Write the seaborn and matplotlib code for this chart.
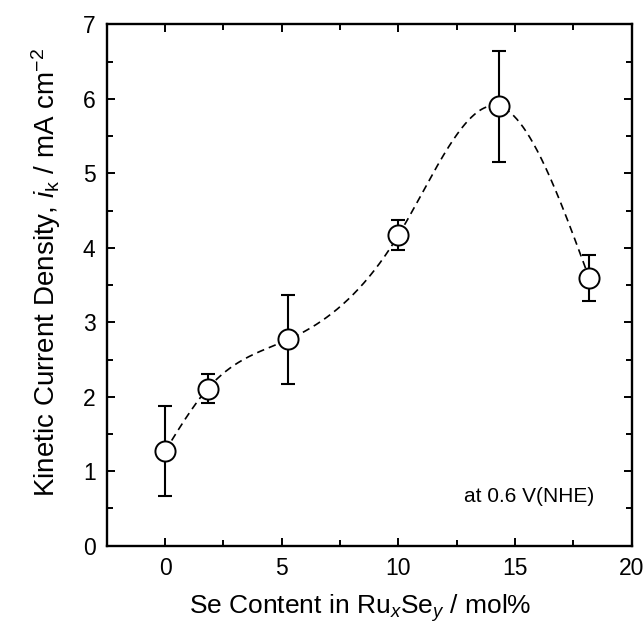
import numpy as np
import pandas as pd
import matplotlib
matplotlib.use("Agg")
import matplotlib.pyplot as plt
import seaborn as sns

# data
se_content = [0.0, 1.83, 5.29, 10.0, 14.32, 18.18]
current = [1.27, 2.11, 2.77, 4.17, 5.90, 3.59]
error = [0.60, 0.19, 0.60, 0.20, 0.75, 0.31]

x_ticks = [0, 5, 10, 15, 20]
y_ticks = [0, 1, 2, 3, 4, 5, 6, 7]
note = "at 0.6 V(NHE)"

sns.set_style("ticks")
plt.rcParams["font.family"] = ["Liberation Sans", "DejaVu Sans"]
plt.rcParams["mathtext.fontset"] = "custom"
plt.rcParams["mathtext.rm"] = "Liberation Sans"
plt.rcParams["mathtext.it"] = "Liberation Sans:italic"
plt.rcParams["text.color"] = "black"
plt.rcParams["axes.labelcolor"] = "black"
plt.rcParams["xtick.color"] = "black"
plt.rcParams["ytick.color"] = "black"


# natural cubic spline through the points (guide line)
def natural_spline(xs, ys, xnew):
    xs = np.asarray(xs, float)
    ys = np.asarray(ys, float)
    n = len(xs)
    h = np.diff(xs)
    A = np.zeros((n, n))
    b = np.zeros(n)
    A[0, 0] = 1
    A[-1, -1] = 1
    for i in range(1, n - 1):
        A[i, i - 1] = h[i - 1]
        A[i, i] = 2 * (h[i - 1] + h[i])
        A[i, i + 1] = h[i]
        b[i] = 6 * ((ys[i + 1] - ys[i]) / h[i] - (ys[i] - ys[i - 1]) / h[i - 1])
    M = np.linalg.solve(A, b)
    out = np.empty_like(xnew)
    for k, xv in enumerate(xnew):
        i = min(max(np.searchsorted(xs, xv) - 1, 0), n - 2)
        t1 = xs[i + 1] - xv
        t0 = xv - xs[i]
        out[k] = (M[i] * t1**3 + M[i + 1] * t0**3) / (6 * h[i]) \
            + (ys[i] / h[i] - M[i] * h[i] / 6) * t1 \
            + (ys[i + 1] / h[i] - M[i + 1] * h[i] / 6) * t0
    return out


xs_fine = np.linspace(se_content[0], se_content[-1], 400)
curve = pd.DataFrame({"x": xs_fine, "y": natural_spline(se_content, current, xs_fine)})
df = pd.DataFrame({"x": se_content, "y": current, "err": error})

fig = plt.figure(figsize=(6.44, 6.34), dpi=100)
ax = fig.add_axes([0.1657, 0.1393, 0.8153, 0.8221])

sns.lineplot(data=curve, x="x", y="y", ax=ax, color="black", lw=1.2,
             linestyle=(0, (4.5, 3)), zorder=1)
ax.errorbar(df["x"], df["y"], yerr=df["err"], fmt="none", ecolor="black",
            elinewidth=1.5, capsize=5, capthick=1.5, zorder=2)
sns.scatterplot(data=df, x="x", y="y", ax=ax, marker="o", s=210,
                facecolor="white", edgecolor="black", linewidth=1.4, zorder=3)

ax.set_xlim(-2.5, 20)
ax.set_ylim(0, 7)
ax.set_xticks(x_ticks)
ax.set_yticks(y_ticks)
ax.set_xticks(np.arange(-2.5, 20.1, 2.5), minor=True)
ax.set_yticks(np.arange(0, 7.01, 0.5), minor=True)
ax.tick_params(which="both", direction="in", top=True, right=True,
               labeltop=False, labelright=False, width=1.4, color="black")
ax.tick_params(which="major", length=6, labelsize=16.5, pad=8)
ax.tick_params(which="minor", length=4)
for s in ax.spines.values():
    s.set_visible(True)
    s.set_linewidth(1.7)
    s.set_color("black")

ax.set_xlabel(r"Se Content in Ru$_{\it x}$Se$_{\it y}$ / mol%", fontsize=19)
ax.xaxis.set_label_coords(0.4825, -0.09)
ax.set_ylabel(r"Kinetic Current Density, $\it{i}$$_{\rm k}$ / mA cm$^{-2}$",
              fontsize=20)
ax.yaxis.set_label_coords(-0.083, 0.525)

ax.text(18.4, 0.66, note, fontsize=15, ha="right", va="center")

fig.savefig("out.png", dpi=100)
